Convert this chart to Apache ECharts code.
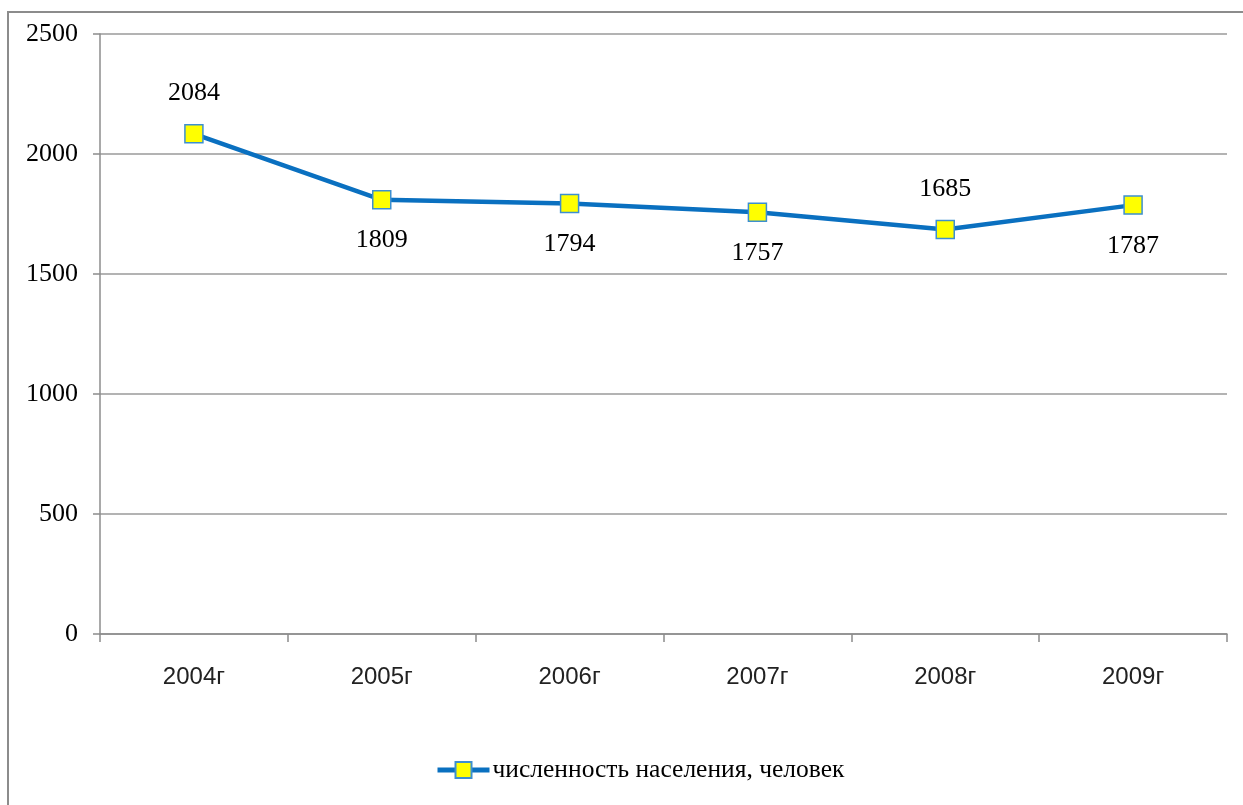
<!DOCTYPE html>
<html>
<head>
<meta charset="utf-8">
<script src="https://cdn.jsdelivr.net/npm/echarts@6/dist/echarts.min.js"></script>
<style>
  html, body { margin: 0; padding: 0; background: #fff; }
  #chart { width: 1243px; height: 805px; }
</style>
</head>
<body>
<div id="chart"></div>
<script>
// data
const years = ['2004г', '2005г', '2006г', '2007г', '2008г', '2009г'];
const population = [2084, 1809, 1794, 1757, 1685, 1787];
const labelSide = ['top', 'bottom', 'bottom', 'bottom', 'top', 'bottom'];
const seriesName = 'численность населения, человек';

const serif = '"Liberation Serif", "Times New Roman", serif';
const sans = '"Liberation Sans", Arial, sans-serif';

let chart = echarts.init(document.getElementById('chart'));

let option = {
  backgroundColor: '#fff',
  animation: false,
  graphic: [{
    type: 'polyline',
    shape: { points: [[8, 820], [8, 12], [1250, 12]] },
    style: { stroke: '#8c8c8c', lineWidth: 2, fill: null }
  }],
  grid: { left: 100, right: 16, top: 34, bottom: 171 },
  legend: {
    bottom: 17,
    left: 430,
    itemWidth: 52,
    itemHeight: 20,
    itemGap: 5,
    lineStyle: { width: 5 },
    textStyle: { fontFamily: serif, fontSize: 25.5, color: '#000', padding: [0, 0, 0, -2] },
    data: [seriesName]
  },
  xAxis: {
    type: 'category',
    data: years,
    axisLine: { lineStyle: { color: '#8c8c8c', width: 1.5 } },
    axisTick: { show: true, length: 8, lineStyle: { color: '#8c8c8c', width: 1.5 } },
    axisLabel: { margin: 31, fontFamily: sans, fontSize: 24, color: '#222' }
  },
  yAxis: {
    type: 'value',
    min: 0,
    max: 2500,
    interval: 500,
    axisLine: { show: true, lineStyle: { color: '#8c8c8c', width: 1.5 } },
    axisTick: { show: true, length: 7, lineStyle: { color: '#8c8c8c', width: 1.5 } },
    axisLabel: { margin: 22, fontFamily: serif, fontSize: 26, color: '#000', formatter: v => String(v) },
    splitLine: { lineStyle: { color: '#9a9a9a', width: 1.5 } }
  },
  series: [{
    name: seriesName,
    type: 'line',
    data: population.map((v, i) => ({
      value: v,
      label: { position: labelSide[i] }
    })),
    symbol: 'rect',
    symbolSize: 18,
    lineStyle: { color: '#0a70c0', width: 4.5 },
    itemStyle: { color: '#ffff00', borderColor: '#3d8fd0', borderWidth: 1.5 },
    label: {
      show: true,
      distance: 18,
      fontFamily: serif,
      fontSize: 26,
      color: '#000'
    }
  }]
};

chart.setOption(option);
</script>
</body>
</html>
